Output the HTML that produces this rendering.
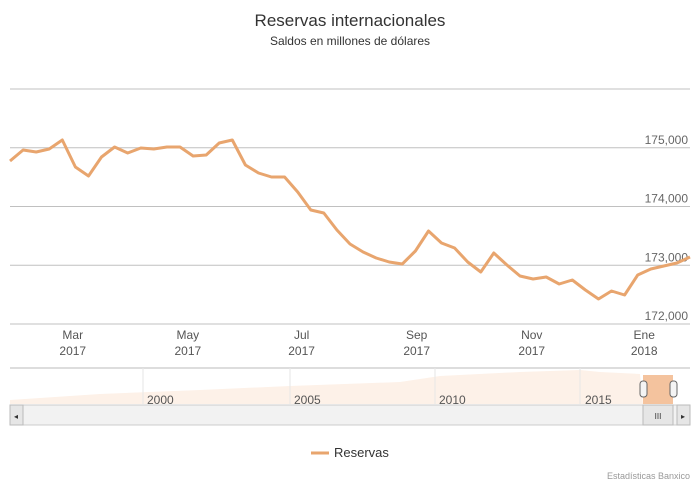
<!DOCTYPE html>
<html><head><meta charset="utf-8"><style>
body{margin:0;background:#fff;font-family:"Liberation Sans",sans-serif;}
svg text{font-family:"Liberation Sans",sans-serif;}
</style></head><body>
<svg width="700" height="485">
<text x="350" y="26" text-anchor="middle" font-size="17" fill="#333">Reservas internacionales</text>
<text x="350" y="45" text-anchor="middle" font-size="12" fill="#333">Saldos en millones de dólares</text>
<g id="grid"></g><g id="xaxis"></g>
<path id="line" fill="none" stroke="#e8a56e" stroke-width="3" stroke-linejoin="round"/>
<g>
<line x1="10" y1="368" x2="690" y2="368" stroke="#bbb"/>
<path d="M10,404 L10,400 L100,394 L200,390 L290,386 L400,382 L440,376 L520,372 L580,370 L600,372 L640,374 L643,404 Z" fill="#fdf1e8"/>
<g stroke="#e6e6e6"><line x1="143" y1="368" x2="143" y2="404"/><line x1="290" y1="368" x2="290" y2="404"/><line x1="435" y1="368" x2="435" y2="404"/><line x1="580" y1="368" x2="580" y2="404"/></g>
<g font-size="12" fill="#555"><text x="147" y="404">2000</text><text x="294" y="404">2005</text><text x="439" y="404">2010</text><text x="585" y="404">2015</text></g>
<rect x="643" y="375" width="30" height="29" fill="#f2b98d" opacity="0.85"/>
<rect x="640" y="381" width="7" height="16" rx="3" fill="#f4f4f4" stroke="#666"/>
<rect x="670" y="381" width="7" height="16" rx="3" fill="#f4f4f4" stroke="#666"/>
<rect x="10" y="405" width="680" height="20" fill="#f2f2f2" stroke="#ccc"/>
<rect x="10" y="405" width="13" height="20" fill="#e6e6e6" stroke="#bbb"/>
<text x="16" y="419" font-size="8" fill="#333" text-anchor="middle">◂</text>
<rect x="643" y="405" width="30" height="20" fill="#e6e6e6" stroke="#bbb"/>
<text x="658" y="419" font-size="8" fill="#333" text-anchor="middle">III</text>
<rect x="677" y="405" width="13" height="20" fill="#e6e6e6" stroke="#bbb"/>
<text x="683" y="419" font-size="8" fill="#333" text-anchor="middle">▸</text>
</g>
<g>
<line x1="311" y1="453" x2="329" y2="453" stroke="#e8a56e" stroke-width="3"/>
<text x="334" y="457" font-size="13" fill="#333">Reservas</text></g>
<text x="690" y="479" text-anchor="end" font-size="9" fill="#999">Estadísticas Banxico</text>
</svg>
<script>
const values=[174774,174962,174928,174979,175132,174672,174519,174843,175013,174911,174996,174979,175013,175013,174860,174877,175081,175132,174706,174570,174502,174502,174247,173940,173889,173600,173362,173226,173123,173055,173021,173243,173583,173379,173294,173055,172885,173209,173004,172817,172766,172800,172681,172749,172579,172426,172562,172494,172834,172936,172987,173038,173140];
const yTicks=[176000,175000,174000,173000,172000];
const yTickLabels=["","175,000","174,000","173,000","172,000"];
const xMonths=["Mar","May","Jul","Sep","Nov","Ene"];
const xYears=["2017","2017","2017","2017","2017","2018"];
const xMonthIdx=[4.8,13.6,22.3,31.1,39.9,48.5];
const NS="http://www.w3.org/2000/svg";
const y=v=>89+(176000-v)/1000*58.75;
const x=i=>10+i*(680/(values.length-1));
const grid=document.getElementById('grid');
yTicks.forEach((t,k)=>{
 const l=document.createElementNS(NS,'line');
 l.setAttribute('x1',10);l.setAttribute('x2',690);l.setAttribute('y1',y(t));l.setAttribute('y2',y(t));
 l.setAttribute('stroke','#c0c0c0');
 
 
 grid.appendChild(l);
 if(yTickLabels[k]){const tx=document.createElementNS(NS,'text');
 tx.setAttribute('x',688);tx.setAttribute('y',y(t)-4);tx.setAttribute('text-anchor','end');
 tx.setAttribute('font-size','12');tx.setAttribute('fill','#666');tx.textContent=yTickLabels[k];
 
 
 grid.appendChild(tx);}
});
const xa=document.getElementById('xaxis');
xMonths.forEach((m,k)=>{
 const t=document.createElementNS(NS,'text');
 t.setAttribute('x',x(xMonthIdx[k]));t.setAttribute('y',339);t.setAttribute('text-anchor','middle');
 t.setAttribute('font-size','12');t.setAttribute('fill','#555');t.textContent=m;
 
 
 xa.appendChild(t);
 const t2=t.cloneNode();t2.setAttribute('y',355);t2.textContent=xYears[k];
 
 
 xa.appendChild(t2);
});
document.getElementById('line').setAttribute('d',values.map((v,i)=>(i?'L':'M')+x(i).toFixed(1)+','+y(v).toFixed(1)).join(' '));
</script>
</body></html>
